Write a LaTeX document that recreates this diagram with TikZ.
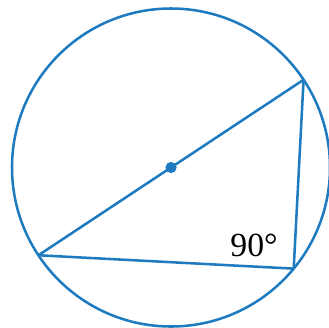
\documentclass[tikz,border=0pt]{standalone}
\usepackage{fontspec}
\setmainfont{Liberation Serif}
\usepackage{tikz}
\usetikzlibrary{calc}
\definecolor{geoblue}{HTML}{1F7BC0}
\tikzset{
  geoline/.style={draw=geoblue,line width=1.8pt},
  centerdot/.style={circle,fill=geoblue,inner sep=0pt,minimum size=2.8mm},
  anglelabel/.style={font=\fontsize{24}{27}\selectfont,inner sep=0pt},
}

\begin{document}
\begin{tikzpicture}[x=0.25mm,y=0.25mm]
  \useasboundingbox (0,0) rectangle (329,327);
  \coordinate (O) at (171,159.5);
  \coordinate (A) at ($(O)+(213.5:159)$);
  \coordinate (B) at ($(O)+(33.5:159)$);
  \coordinate (C) at ($(O)+(320.5:159)$);
  \draw[geoline] (O) circle[radius=159];
  \draw[geoline,line join=round] (A) -- (B) -- (C) -- cycle;
  \node[centerdot] (dot) at (O) {};
  \node[anglelabel] (rt) at (254,82) {90°};
\end{tikzpicture}
\end{document}
